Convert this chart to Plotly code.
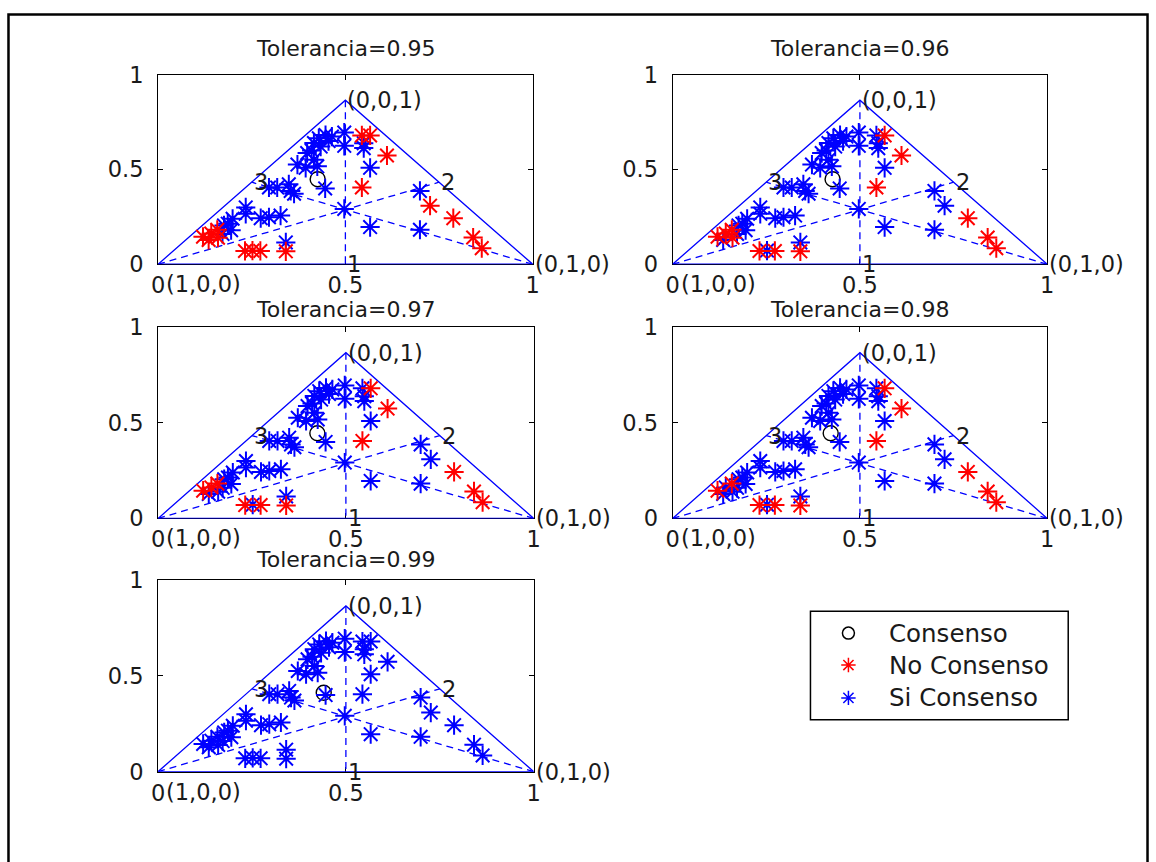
import plotly.graph_objects as go

W, H = 1156, 862

tolerancias = ["0.95", "0.96", "0.97", "0.98", "0.99"]

# triangle vertices (1,0,0), (0,1,0), (0,0,1) in cartesian coordinates
vert_x = [0.0, 1.0, 0.5]
vert_y = [0.0, 0.0, 0.866]
vert_labels = ["(1,0,0)", "(0,1,0)", "(0,0,1)"]
side_labels = ["1", "2", "3"]

# evaluation points (cartesian projection of the ternary values)
pts_x = [0.497, 0.497, 0.447, 0.429, 0.416, 0.434, 0.398, 0.416, 0.372, 0.394,
         0.425, 0.464, 0.455, 0.410, 0.544, 0.566, 0.549, 0.549, 0.611, 0.566,
         0.544, 0.497, 0.566, 0.699, 0.726, 0.788, 0.699, 0.841, 0.864, 0.296,
         0.318, 0.349, 0.354, 0.363, 0.446, 0.234, 0.234, 0.274, 0.296, 0.327,
         0.199, 0.186, 0.120, 0.135, 0.142, 0.158, 0.172, 0.176, 0.195, 0.160,
         0.232, 0.252, 0.273, 0.341, 0.341]
pts_y = [0.695, 0.625, 0.682, 0.665, 0.640, 0.621, 0.587, 0.552, 0.526, 0.509,
         0.517, 0.674, 0.650, 0.600, 0.680, 0.680, 0.639, 0.613, 0.574, 0.509,
         0.405, 0.292, 0.196, 0.387, 0.309, 0.243, 0.182, 0.141, 0.085, 0.405,
         0.405, 0.422, 0.387, 0.372, 0.400, 0.300, 0.266, 0.243, 0.248, 0.257,
         0.240, 0.214, 0.145, 0.128, 0.162, 0.182, 0.160, 0.205, 0.180, 0.140,
         0.070, 0.072, 0.070, 0.068, 0.115]

# indices of points without consensus for each tolerance
no_consenso_095 = [14, 15, 18, 20, 24, 25, 27, 28, 42, 43, 44, 45, 49, 50, 51, 52, 53]
no_consenso_096 = [15, 18, 20, 25, 27, 28, 42, 44, 45, 49, 50, 52, 53]
no_consenso_097 = [15, 18, 20, 25, 27, 28, 42, 44, 45, 50, 52, 53]
no_consenso_098 = [15, 18, 20, 25, 27, 28, 42, 45, 50, 52, 53]
no_consenso_099 = []
no_consenso = [no_consenso_095, no_consenso_096, no_consenso_097,
               no_consenso_098, no_consenso_099]

consenso_x = [0.426, 0.427, 0.424, 0.422, 0.441]
consenso_y = [0.449, 0.449, 0.445, 0.445, 0.412]

# ---------------------------------------------------------------- layout helpers
# the photographed page is slightly rescaled; map target pixels to page pixels
SX, OX = 0.9888, 5.8
SY, OY = 0.9728, 10.0


def fx(t):
    return (t - OX) / SX / W


def fy(t):
    return 1 - (t - OY) / SY / H


# axes boxes in target pixels (left, right, top, bottom)
boxes = [(157, 532, 72, 262), (672, 1047, 72, 262),
         (157, 533, 325, 517), (672, 1047, 325, 517),
         (157, 533, 579, 771)]
title_y = [46, 46, 307, 307, 558]

FONT = "DejaVu Sans"
BLUE = "#0000ff"
RED = "#ff0000"
TXT = "#1a1a1a"

fig = go.Figure()
annotations = []
layout = dict(width=W, height=H, margin=dict(l=0, r=0, t=0, b=0),
              paper_bgcolor="white", plot_bgcolor="white", showlegend=False,
              font=dict(family=FONT, color="black"))

for k, tol in enumerate(tolerancias):
    n = k + 1
    xa, ya = ("x" if n == 1 else f"x{n}"), ("y" if n == 1 else f"y{n}")
    l, r, t, b = boxes[k]
    common = dict(range=[0, 1], tickvals=[0, 0.5, 1], ticktext=["0", "0.5", "1"],
                  showline=True, linecolor="black", linewidth=1, mirror="ticks",
                  ticks="inside", ticklen=5, tickcolor="black", showgrid=False,
                  zeroline=False, layer="below traces", fixedrange=True,
                  tickfont=dict(family=FONT, size=22.5, color=TXT))
    layout[f"xaxis{'' if n == 1 else n}"] = dict(common, domain=[fx(l), fx(r)], anchor=ya,
                                                 ticklabelstandoff=1)
    layout[f"yaxis{'' if n == 1 else n}"] = dict(common, domain=[fy(b), fy(t)], anchor=xa,
                                                 ticklabelstandoff=9)

    # triangle
    fig.add_trace(go.Scatter(x=vert_x + [vert_x[0]], y=vert_y + [vert_y[0]], mode="lines",
                             line=dict(color=BLUE, width=1.3), xaxis=xa, yaxis=ya,
                             cliponaxis=False, hoverinfo="skip"))
    # medians (dashed)
    mx, my = [], []
    for i in range(3):
        j, m = (i + 1) % 3, (i + 2) % 3
        mx += [vert_x[i], (vert_x[j] + vert_x[m]) / 2, None]
        my += [vert_y[i], (vert_y[j] + vert_y[m]) / 2, None]
    fig.add_trace(go.Scatter(x=mx, y=my, mode="lines",
                             line=dict(color=BLUE, width=1.3, dash="7px,5px"),
                             xaxis=xa, yaxis=ya, cliponaxis=False, hoverinfo="skip"))
    # consensus
    fig.add_trace(go.Scatter(x=[consenso_x[k]], y=[consenso_y[k]], mode="markers",
                             marker=dict(symbol="circle-open", size=15, color="black",
                                         line=dict(width=1.4, color="black")),
                             xaxis=xa, yaxis=ya, name="Consenso"))
    reds = set(no_consenso[k])
    bx = [pts_x[i] for i in range(len(pts_x)) if i not in reds]
    by = [pts_y[i] for i in range(len(pts_y)) if i not in reds]
    rx = [pts_x[i] for i in sorted(reds)]
    ry = [pts_y[i] for i in sorted(reds)]
    fig.add_trace(go.Scatter(x=bx, y=by, mode="markers",
                             marker=dict(symbol="asterisk-open", size=16, color=BLUE,
                                         line=dict(width=2, color=BLUE)),
                             xaxis=xa, yaxis=ya, name="Si Consenso"))
    fig.add_trace(go.Scatter(x=rx, y=ry, mode="markers",
                             marker=dict(symbol="asterisk-open", size=16, color=RED,
                                         line=dict(width=2, color=RED)),
                             xaxis=xa, yaxis=ya, name="No Consenso"))

    # texts
    tf = dict(family=FONT, size=22.5, color=TXT)
    annotations.append(dict(x=vert_x[2], y=vert_y[2], xref=xa, yref=ya, text=vert_labels[2],
                            showarrow=False, xanchor="left", yanchor="middle", font=tf))
    annotations.append(dict(x=vert_x[1], y=vert_y[1], xref=xa, yref=ya, text=vert_labels[1],
                            showarrow=False, xanchor="left", yanchor="middle", font=tf))
    # (1,0,0) sits next to the "0" tick label, below the axis
    annotations.append(dict(x=fx(l + 6), y=fy(b + 20), xref="paper",
                            yref="paper", text=vert_labels[0], showarrow=False,
                            xanchor="left", yanchor="middle", font=tf))
    for i in range(3):
        j, m = (i + 1) % 3, (i + 2) % 3
        annotations.append(dict(x=(vert_x[i] + vert_x[j]) / 2, y=(vert_y[i] + vert_y[j]) / 2,
                                xref=xa, yref=ya, text=side_labels[i], showarrow=False,
                                xanchor="left", yanchor="middle", font=tf))
    annotations.append(dict(x=fx((l + r) / 2), y=fy(title_y[k]), xref="paper", yref="paper",
                            text=f"Tolerancia={tol}", showarrow=False, xanchor="center",
                            yanchor="middle", font=dict(family=FONT, size=22, color=TXT)))

# ---------------------------------------------------------------- legend
LX0, LX1, LY0, LY1 = 810, 1068, 610, 719
layout["xaxis6"] = dict(domain=[fx(LX0), fx(LX1)], range=[LX0, LX1], visible=False,
                        anchor="y6", fixedrange=True)
layout["yaxis6"] = dict(domain=[fy(LY1), fy(LY0)], range=[LY1, LY0], visible=False,
                        anchor="x6", fixedrange=True)
leg_names = ["Consenso", "No Consenso", "Si Consenso"]
leg_y = [632, 664, 697]
leg_sym = ["circle-open", "asterisk-open", "asterisk-open"]
leg_col = ["black", RED, BLUE]
for name, yy, sym, col in zip(leg_names, leg_y, leg_sym, leg_col):
    fig.add_trace(go.Scatter(x=[848], y=[yy], mode="markers", xaxis="x6", yaxis="y6",
                             marker=dict(symbol=sym, size=12, color=col,
                                         line=dict(width=1.5, color=col))))
    annotations.append(dict(x=887, y=yy, xref="x6", yref="y6", text=name, showarrow=False,
                            xanchor="left", yanchor="middle",
                            font=dict(family=FONT, size=24.5, color=TXT)))

shapes = [
    dict(type="rect", xref="paper", yref="paper", x0=fx(LX0), x1=fx(LX1),
         y0=fy(LY1), y1=fy(LY0), line=dict(color="black", width=1.5)),
    dict(type="rect", xref="paper", yref="paper", x0=1.5 / W, x1=1154.5 / W,
         y0=-0.02, y1=1 - 1.5 / H, line=dict(color="black", width=2.5)),
]

layout["annotations"] = annotations
layout["shapes"] = shapes
fig.update_layout(**layout)
fig.write_html("out.html", config={"displayModeBar": False},
               post_script="document.body.style.margin='0px';"
                           "document.body.style.overflow='hidden';")
